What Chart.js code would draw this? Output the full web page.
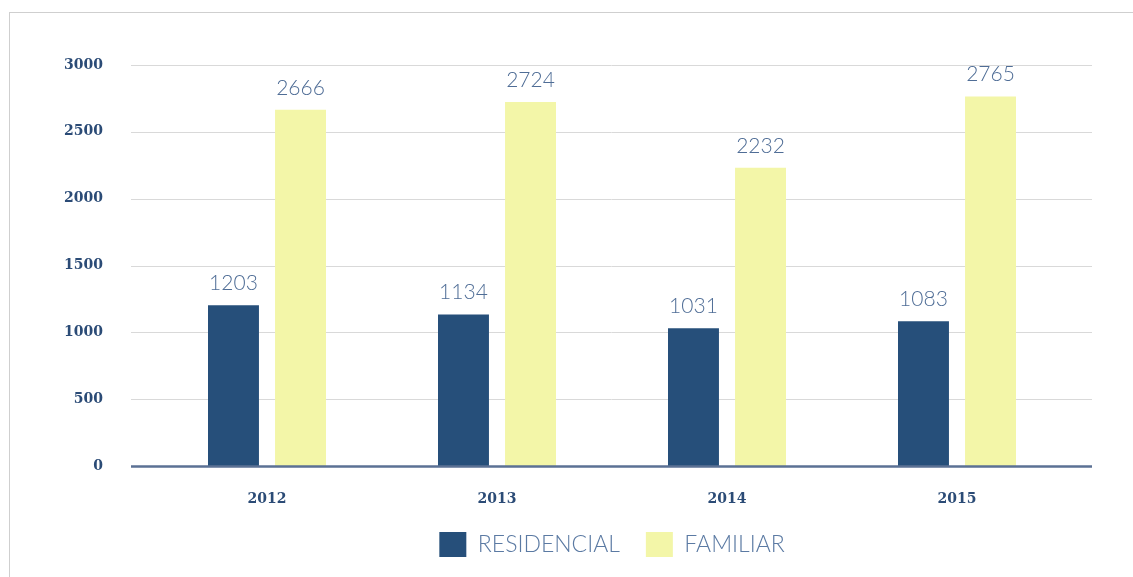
<!DOCTYPE html>
<html>
<head>
<meta charset="utf-8">
<script src="https://cdn.jsdelivr.net/npm/chart.js@4.4.0/dist/chart.umd.min.js"></script>
<style>
  html, body { margin: 0; padding: 0; background: #fff; }
  #frame {
    position: absolute; left: 9px; top: 12px; width: 1200px; height: 600px;
    border-left: 1px solid #cfcfcf; border-top: 1px solid #cfcfcf;
  }
  #wrap { position: absolute; left: 0; top: 0; width: 1133px; height: 577px; }
</style>
</head>
<body>
<div id="frame"></div>
<div id="wrap"><canvas id="barChart"></canvas></div>
<script>
/* ===== DATA ===== */
const years = ["2012", "2013", "2014", "2015"];
const residencial = [1203, 1134, 1031, 1083];
const familiar = [2666, 2724, 2232, 2765];
const yTicks = [0, 500, 1000, 1500, 2000, 2500, 3000];

const seriesNames = ["RESIDENCIAL", "FAMILIAR"];
const seriesColors = ["#264f7a", "#f3f6a8"];

/* ===== gridlines, base line and value labels ===== */
const extraDraw = {
  id: "extraDraw",
  beforeDatasetsDraw(chart) {
    const ctx = chart.ctx;
    const y = chart.scales.y;
    const left = chart.chartArea.left - 21;
    const right = chart.chartArea.right + 20;
    ctx.save();
    ctx.strokeStyle = "#d9d9d9";
    ctx.lineWidth = 1;
    yTicks.forEach(v => {
      if (v === 0) return;
      const py = Math.round(y.getPixelForValue(v)) + 0.5;
      ctx.beginPath();
      ctx.moveTo(left, py);
      ctx.lineTo(right, py);
      ctx.stroke();
    });
    ctx.restore();
  },
  afterDatasetsDraw(chart) {
    const ctx = chart.ctx;
    const y = chart.scales.y;
    const left = chart.chartArea.left - 21;
    const right = chart.chartArea.right + 20;
    ctx.save();
    ctx.strokeStyle = "#5b7194";
    ctx.lineWidth = 2.5;
    const py = y.getPixelForValue(0) + 0.5;
    ctx.beginPath();
    ctx.moveTo(left, py);
    ctx.lineTo(right, py);
    ctx.stroke();

    ctx.fillStyle = "#4f6d96";
    ctx.font = "300 21px Lato, 'Open Sans', sans-serif";
    ctx.textAlign = "center";
    ctx.textBaseline = "alphabetic";
    chart.data.datasets.forEach((ds, i) => {
      chart.getDatasetMeta(i).data.forEach((bar, j) => {
        ctx.fillText(String(ds.data[j]), bar.x, Math.max(bar.y - 15, 76));
      });
    });
    ctx.restore();
  }
};

new Chart(document.getElementById("barChart"), {
  type: "bar",
  data: {
    labels: years,
    datasets: [
      { label: seriesNames[0], data: residencial, backgroundColor: seriesColors[0],
        categoryPercentage: 0.583, barPercentage: 0.76 },
      { label: seriesNames[1], data: familiar, backgroundColor: seriesColors[1],
        categoryPercentage: 0.583, barPercentage: 0.76 }
    ]
  },
  options: {
    responsive: true,
    maintainAspectRatio: false,
    animation: false,
    layout: { padding: { top: 65, right: 61, left: 0, bottom: 10 } },
    plugins: {
      tooltip: { enabled: false },
      legend: {
        position: "bottom",
        fullSize: false,
        labels: {
          boxWidth: 27,
          boxHeight: 25,
          padding: 26,
          color: "#5b7aa3",
          font: { family: "Lato, 'Open Sans', sans-serif", size: 23, weight: "300" }
        }
      }
    },
    scales: {
      x: {
        grid: { display: false },
        border: { display: false },
        ticks: {
          padding: 17,
          color: "#2b4b76",
          font: { family: "'DejaVu Serif', serif", size: 14, weight: "bold" }
        },
        afterFit: s => { s.height = 40; }
      },
      y: {
        min: 0,
        max: 3000,
        grid: { display: false, drawTicks: false },
        border: { display: false },
        ticks: {
          stepSize: 500,
          padding: 49,
          color: "#2b4b76",
          font: { family: "'DejaVu Serif', serif", size: 14, weight: "bold" },
          callback: v => String(v)
        },
        afterFit: s => { s.width = 152; }
      }
    }
  },
  plugins: [extraDraw]
});
</script>
</body>
</html>
